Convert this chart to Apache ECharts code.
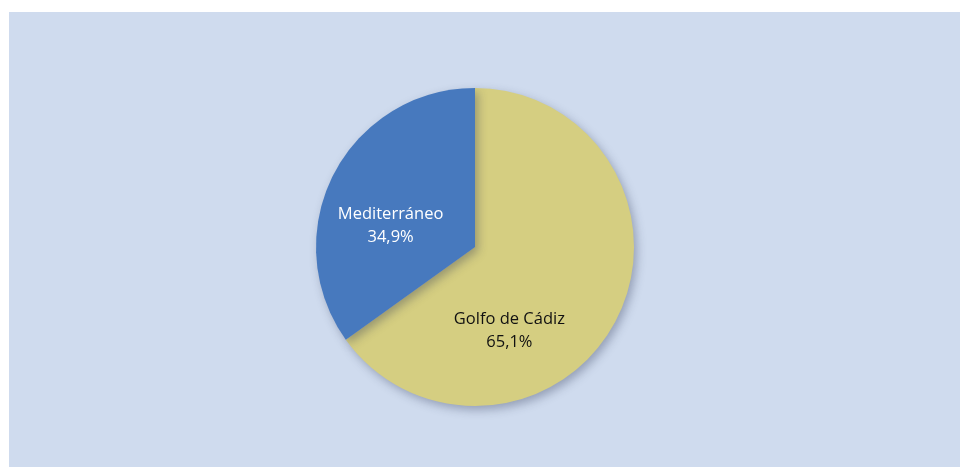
<!DOCTYPE html>
<html>
<head>
<meta charset="utf-8">
<script src="https://cdn.jsdelivr.net/npm/echarts@6/dist/echarts.min.js"></script>
<style>
  html, body { margin: 0; padding: 0; background: #ffffff; }
  #chart {
    position: absolute;
    left: 9px;
    top: 12px;
    width: 951px;
    height: 455px;
    background: #cfdbee;
  }
</style>
</head>
<body>
<div id="chart"></div>
<script>
  // data
  const categories = ['Golfo de Cádiz', 'Mediterráneo']
  const values = [65.1, 34.9]
  const colors = ['#d5ce81', '#4779be']
  const labelColors = ['#111111', '#ffffff']
  // nudges to place labels where the reference has them
  const labelShift = [[-39, 46], [-11, 16]]

  const chart = echarts.init(document.getElementById('chart'))

  chart.setOption({
    animation: false,
    backgroundColor: '#cfdbee',
    series: [
      {
        type: 'pie',
        center: [466, 235],
        radius: 159,
        startAngle: 90,
        clockwise: true,
        silent: true,
        itemStyle: {
          borderWidth: 0,
          shadowBlur: 10,
          shadowOffsetX: 3,
          shadowOffsetY: 4,
          shadowColor: 'rgba(40, 50, 80, 0.35)',
        },
        label: {
          show: true,
          position: 'inside',
          fontFamily: 'Open Sans',
          fontSize: 16.5,
          lineHeight: 23,
          formatter: (p) => `${p.name}\n${p.value.toFixed(1).replace('.', ',')}%`,
        },
        labelLayout: (p) => ({
          dx: labelShift[p.dataIndex][0],
          dy: labelShift[p.dataIndex][1],
        }),
        data: categories.map((name, i) => ({
          name,
          value: values[i],
          itemStyle: { color: colors[i] },
          label: { color: labelColors[i] },
        })),
      },
    ],
  })
</script>
</body>
</html>
